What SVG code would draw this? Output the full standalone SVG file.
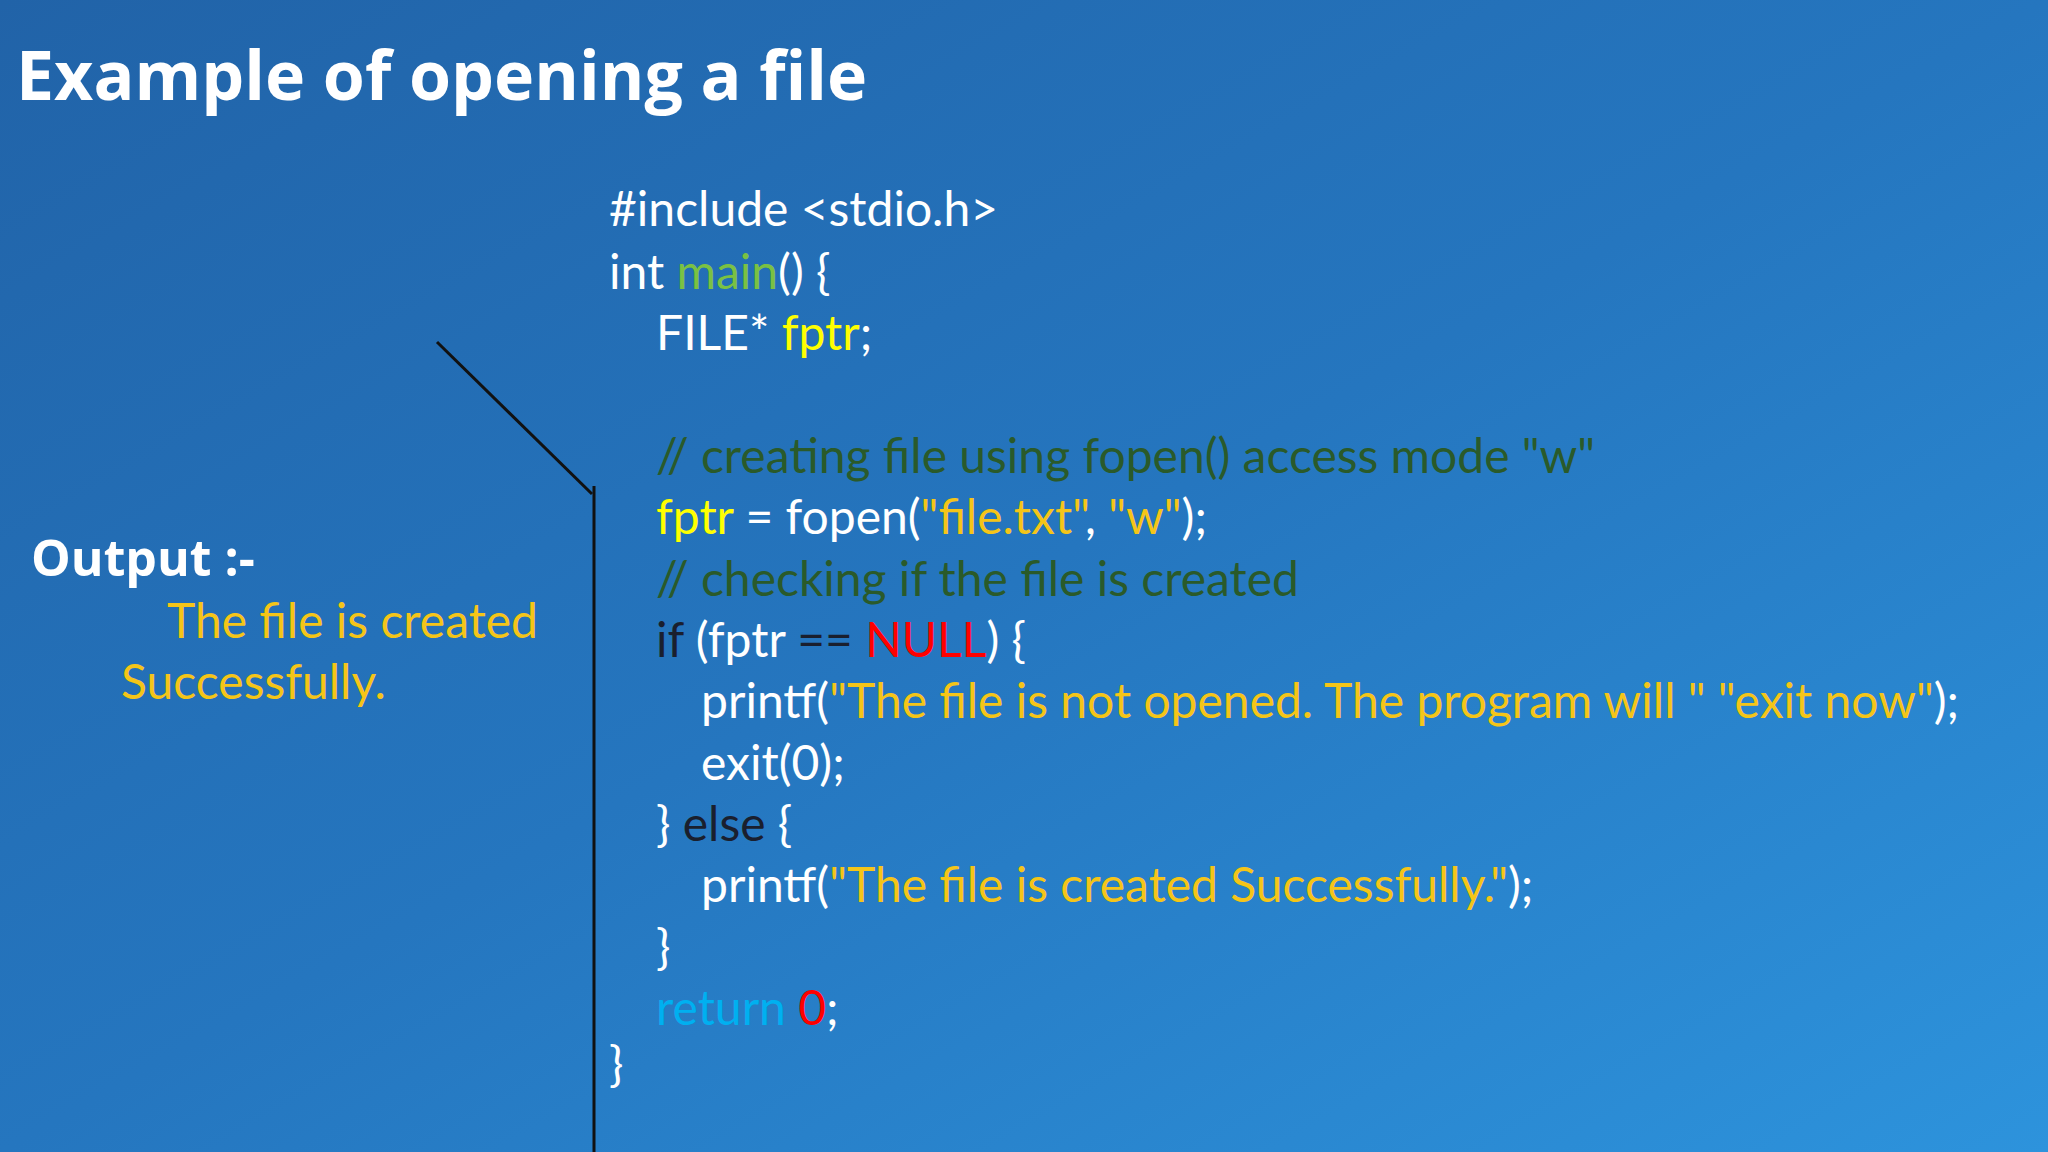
<svg xmlns="http://www.w3.org/2000/svg" width="2048" height="1152" viewBox="0 0 2048 1152">
<defs>
<linearGradient id="bg" x1="0" y1="0" x2="1" y2="1">
<stop offset="0" stop-color="#2163a8"/>
<stop offset="0.5" stop-color="#2576bf"/>
<stop offset="1" stop-color="#2d93dc"/>
</linearGradient>
</defs>
<style>
.code{font-family:Lato,"Liberation Sans",sans-serif;font-size:48px;fill:#ffffff}
.g{fill:#7ac143}.y{fill:#ffff00}.c{fill:#2a5a2a}.s{fill:#f5c518}.r{fill:#ff0000}.b{fill:#00b0f0}.d{fill:#1a1f2e}
.title{font-family:"Open Sans","Noto Sans",sans-serif;font-weight:bold;fill:#ffffff}
</style>
<rect width="2048" height="1152" fill="url(#bg)"/>
<text class="title" x="16" y="100" font-size="68">Example of opening a file</text>
<g id="output">
<text class="title" x="31" y="576" font-size="50">Output :-</text>
<text class="code s" x="167" y="638" font-size="50">The file is created</text>
<text class="code s" x="121" y="699" font-size="50">Successfully.</text>
</g>
<g id="connectors" stroke="#111" stroke-width="3" fill="none">
<line x1="437" y1="342" x2="592" y2="494"/>
<line x1="594" y1="486" x2="594" y2="1152"/>
</g>
<g id="code" xml:space="preserve">
<text class="code" x="609" y="226">#include &lt;stdio.h&gt;</text>
<text class="code" x="609" y="289">int <tspan class="g">main</tspan>() {</text>
<text class="code" x="656" y="350">FILE* <tspan class="y">fptr</tspan>;</text>
<text class="code c" x="656" y="473">// creating file using fopen() access mode "w"</text>
<text class="code" x="656" y="534"><tspan class="y">fptr</tspan> = fopen(<tspan class="s">"file.txt"</tspan>, <tspan class="s">"w"</tspan>);</text>
<text class="code c" x="656" y="596">// checking if the file is created</text>
<text class="code" x="656" y="657"><tspan class="d">if</tspan> (fptr <tspan class="d">==</tspan> <tspan class="r">NULL</tspan>) {</text>
<text class="code" x="701" y="718">printf(<tspan class="s">"The file is not opened. The program will " "exit now"</tspan>);</text>
<text class="code" x="701" y="780">exit(0);</text>
<text class="code" x="656" y="841">} <tspan class="d">else</tspan>  {</text>
<text class="code" x="701" y="902">printf(<tspan class="s">"The file is created Successfully."</tspan>);</text>
<text class="code" x="656" y="964">}</text>
<text class="code" x="656" y="1025"><tspan class="b">return</tspan> <tspan class="r">0</tspan>;</text>
<text class="code" x="609" y="1081">}</text>
</g>
</svg>
